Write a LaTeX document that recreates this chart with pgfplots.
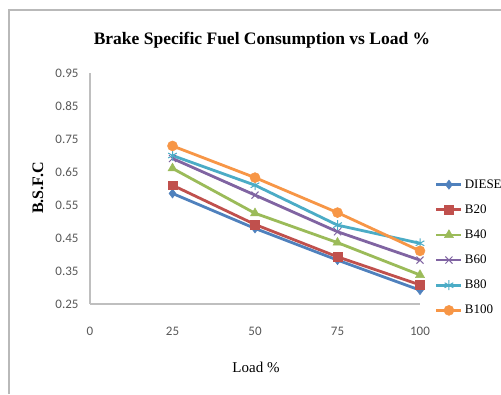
\documentclass[border=0pt]{standalone}
\usepackage{fontspec}
\setmainfont{Liberation Serif}
\newfontfamily\calibri{Carlito}
\usepackage{pgfplots}
\pgfplotsset{compat=1.18}
\definecolor{cBlue}{HTML}{4F81BD}
\definecolor{cRed}{HTML}{C0504D}
\definecolor{cGreen}{HTML}{9BBB59}
\definecolor{cPurple}{HTML}{8064A2}
\definecolor{cAqua}{HTML}{4BACC6}
\definecolor{cOrange}{HTML}{F79646}
\definecolor{axgray}{HTML}{BFBFBF}
\definecolor{tickgray}{HTML}{595959}
\pgfplotsset{
  mylegimg/.style={legend image code/.code={\draw[mark repeat=2,mark phase=2,#1] plot coordinates {(0pt,0pt) (12.5pt,0pt) (25pt,0pt)};}}
}
\begin{document}
\begin{tikzpicture}[x=1pt,y=1pt]
\useasboundingbox (0,0) rectangle (501,394);
\clip (0,0) rectangle (501,394);
\fill[white] (0,0) rectangle (501,394);
\draw[gray!55, line width=1.2pt] (9,0) -- (9,384) -- (501,384);
\node[font=\bfseries\fontsize{17.5}{20}\selectfont] at (262,354) {Brake Specific Fuel Consumption vs Load \%};
\node[font=\bfseries\fontsize{16}{18}\selectfont, rotate=90] at (38,206) {B.S.F.C};
\node[font=\fontsize{15}{17}\selectfont] at (256,27) {Load \%};
\begin{axis}[
  at={(90pt,90pt)}, anchor=origin,
  scale only axis, width=330pt, height=231pt,
  xmin=0, xmax=100, ymin=0.25, ymax=0.95,
  enlargelimits=false, clip=false,
  xtick={0,25,50,75,100},
  ytick={0.25,0.35,0.45,0.55,0.65,0.75,0.85,0.95},
  axis x line*=bottom, axis y line*=left,
  axis line style={draw=axgray, line width=1.3pt},
  major tick length=0pt,
  tick label style={font=\calibri\fontsize{13}{15}\selectfont, text=tickgray},
  /pgf/number format/assume math mode=true,
  yticklabel style={/pgf/number format/fixed, /pgf/number format/fixed zerofill, /pgf/number format/precision=2, xshift=-8pt},
  xticklabel style={yshift=-20pt},
  legend style={at={(1.045,0.548)}, anchor=north west, draw=none, fill=none,
     font=\fontsize{13}{15}\selectfont, row sep=11pt, inner sep=0pt},
  legend cell align=left,
  mylegimg,
  every axis plot/.append style={line width=2.8pt},
]
\addplot[cBlue, mark=diamond*, mark size=4.6pt, mark options={line width=0.5pt}] coordinates {(25,0.585) (50,0.479) (75,0.383) (100,0.292)};
\addlegendentry{DIESEL}
\addplot[cRed, mark=square*, mark size=4.3pt, mark options={line width=0.5pt}] coordinates {(25,0.610) (50,0.491) (75,0.393) (100,0.308)};
\addlegendentry{B20}
\addplot[cGreen, mark=triangle*, mark size=5.2pt, mark options={line width=0.5pt}] coordinates {(25,0.661) (50,0.525) (75,0.436) (100,0.338)};
\addlegendentry{B40}
\addplot[cPurple, mark=x, mark size=5pt, mark options={line width=1pt}] coordinates {(25,0.691) (50,0.580) (75,0.469) (100,0.383)};
\addlegendentry{B60}
\addplot[cAqua, mark=asterisk, mark size=5pt, mark options={line width=1pt}] coordinates {(25,0.700) (50,0.610) (75,0.489) (100,0.434)};
\addlegendentry{B80}
\addplot[cOrange, mark=*, mark size=5pt, mark options={line width=0.5pt}] coordinates {(25,0.729) (50,0.633) (75,0.527) (100,0.411)};
\addlegendentry{B100}
\end{axis}
\end{tikzpicture}
\end{document}
